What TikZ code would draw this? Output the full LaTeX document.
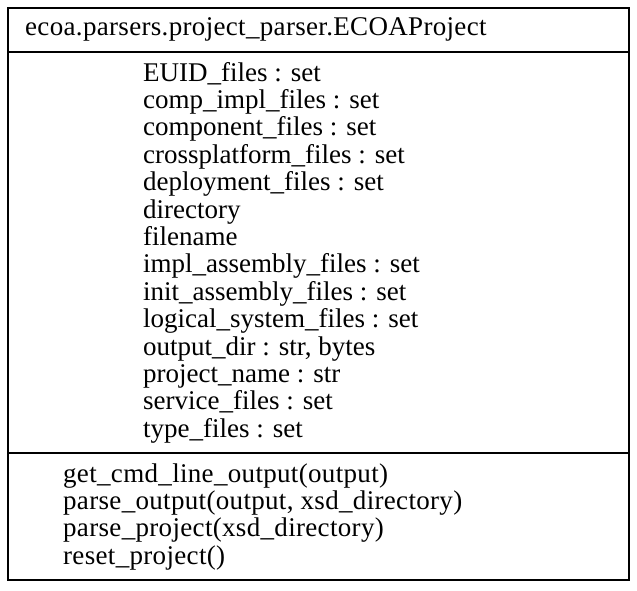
\documentclass[tikz,border=0pt]{standalone}
\usepackage{fontspec}
\setmainfont{Liberation Serif}
\newfontfamily\widefont[LetterSpace=1.2]{Liberation Serif}
\begin{document}
\begin{tikzpicture}[x=1pt,y=-1pt,
  frame/.style={draw=black,line width=1.6pt},
  label/.style={anchor=base west,inner sep=0pt,
    font=\fontsize{27}{27.4}\selectfont},
  widelabel/.style={label,font=\widefont\fontsize{27}{27.4}\selectfont}]
\useasboundingbox (0,0) rectangle (637,590);
% class box with its three compartments
\draw[frame] (8,8) rectangle (629,580);
\draw[frame] (8,52) -- (629,52);
\draw[frame] (8,453) -- (629,453);
% class name
\node[widelabel] (title) at (25,35) {ecoa.parsers.project\_parser.ECOAProject};
% attributes, one line each
\foreach \t [count=\i from 0] in {
  {EUID\_files : set},
  {comp\_impl\_files : set},
  {component\_files : set},
  {crossplatform\_files : set},
  {deployment\_files : set},
  {directory},
  {filename},
  {impl\_assembly\_files : set},
  {init\_assembly\_files : set},
  {logical\_system\_files : set},
  {output\_dir : str, bytes},
  {project\_name : str},
  {service\_files : set},
  {type\_files : set}}
  \node[label] (attr\i) at (143,81+27.4*\i) {\t};
% operations, one line each
\foreach \t [count=\i from 0] in {
  {get\_cmd\_line\_output(output)},
  {parse\_output(output, xsd\_directory)},
  {parse\_project(xsd\_directory)},
  {reset\_project()}}
  \node[widelabel] (op\i) at (63,482+27.4*\i) {\t};
\end{tikzpicture}
\end{document}
